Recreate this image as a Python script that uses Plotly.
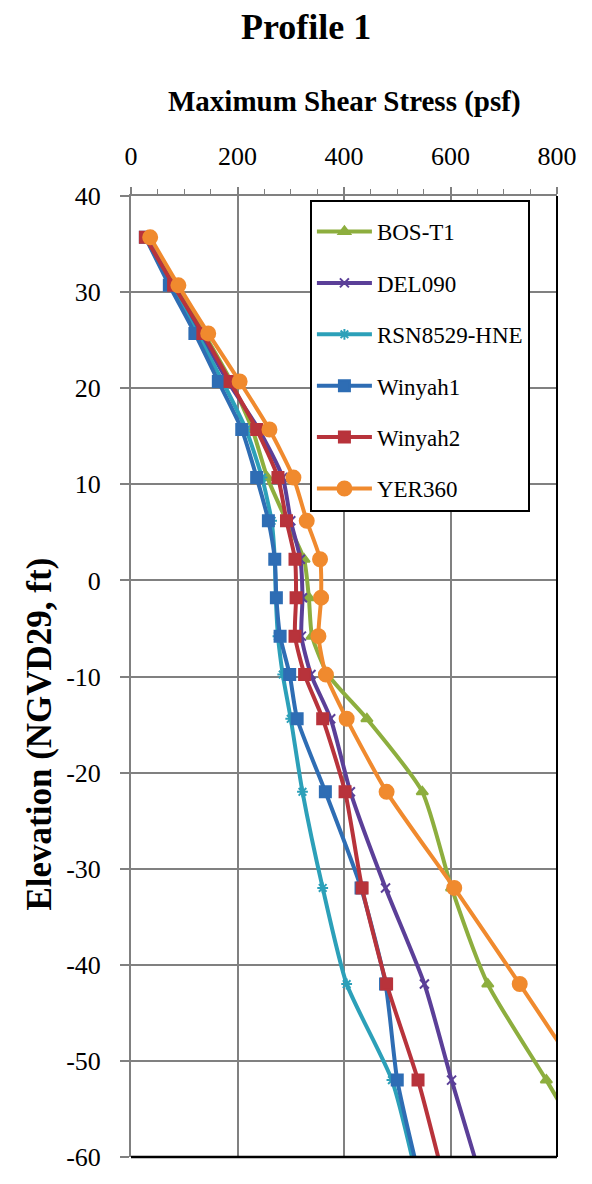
import plotly.graph_objects as go

# Elevation of each output node (ft, NGVD29)
elevation = [35.7, 30.7, 25.7, 20.7, 15.7, 10.7, 6.2, 2.2, -1.8, -5.8, -9.8,
             -14.4, -22, -32, -42, -52, -62]

# Maximum shear stress (psf) for each input motion
bos_t1 = [33, 82, 137, 188, 228, 256, 292, 325, 334, 340, 370, 443, 547, 602, 670, 780, 885]
del090 = [30, 78, 130, 182, 240, 285, 300, 318, 322, 320, 338, 375, 412, 478, 551, 602, 656]
rsn8529_hne = [28, 74, 124, 172, 216, 246, 264, 270, 272, 276, 285, 300, 322, 360, 405, 490, 536]
winyah1 = [27, 72, 120, 164, 208, 236, 258, 270, 273, 280, 298, 312, 365, 432, 478, 500, 541]
winyah2 = [27, 80, 135, 186, 236, 276, 292, 308, 310, 308, 326, 360, 402, 434, 480, 539, 586]
yer360 = [36, 89, 145, 204, 260, 305, 330, 355, 357, 352, 366, 405, 480, 607, 730, 850, 970]

series_names = ["BOS-T1", "DEL090", "RSN8529-HNE", "Winyah1", "Winyah2", "YER360"]
series_values = [bos_t1, del090, rsn8529_hne, winyah1, winyah2, yer360]

x_ticks = [0, 200, 400, 600, 800]
x_tick_labels = ["0", "200", "400", "600", "800"]
y_ticks = [40, 30, 20, 10, 0, -10, -20, -30, -40, -50, -60]
y_tick_labels = ["40", "30", "20", "10", "0", "-10", "-20", "-30", "-40", "-50", "-60"]

styles = [
    dict(color="#8DAE3E", symbol="triangle-up", size=10),
    dict(color="#5B3F98", symbol="x-thin", size=9),
    dict(color="#2CA0B9", symbol="asterisk", size=9),
    dict(color="#2E6DB4", symbol="square", size=11),
    dict(color="#B8333B", symbol="square", size=11),
    dict(color="#F08A2E", symbol="circle", size=14),
]

SERIF = "Liberation Serif"

fig = go.Figure()
for name, vals, st in zip(series_names, series_values, styles):
    fig.add_trace(go.Scatter(
        x=vals, y=elevation, name=name, legendgroup=name,
        mode="lines+markers",
        line=dict(color=st["color"], width=4, shape="spline", smoothing=0.6),
        marker=dict(symbol=st["symbol"], size=st["size"], color=st["color"],
                    line=dict(color=st["color"], width=2)),
    ))

grid = "#808080"
fig.update_layout(
    width=592, height=1184,
    margin=dict(l=131, r=35, t=196, b=16),
    paper_bgcolor="white", plot_bgcolor="white",
    font=dict(family=SERIF, color="black"),
    showlegend=True,
    legend=dict(x=0.42, y=0.9956, xanchor="left", yanchor="top",
                bgcolor="white", bordercolor="black", borderwidth=2,
                font=dict(family=SERIF, size=23, color="black"),
                title=dict(text=" ", font=dict(family=SERIF, size=6)),
                tracegroupgap=18.5, itemwidth=55),
    xaxis=dict(range=[0, 800], side="top", tickvals=x_ticks, ticktext=x_tick_labels,
               showgrid=True, gridcolor=grid, gridwidth=1.5,
               showline=True, linecolor=grid, linewidth=2,
               ticks="outside", ticklen=7, tickcolor=grid, tickwidth=1.5,
               minor=dict(dtick=50, tick0=0, ticks="outside", ticklen=5,
                          tickcolor=grid, tickwidth=1.2, showgrid=False),
               tickfont=dict(family=SERIF, size=26, color="black"),
               ticklabelstandoff=12, zeroline=False),
    yaxis=dict(range=[-60, 40], tickvals=y_ticks, ticktext=y_tick_labels,
               showgrid=True, gridcolor=grid, gridwidth=1.5,
               showline=True, linecolor=grid, linewidth=2,
               ticks="outside", ticklen=9, tickcolor=grid, tickwidth=1.5,
               tickfont=dict(family=SERIF, size=26, color="black"),
               ticklabelstandoff=14, zeroline=False),
    shapes=[
        dict(type="line", xref="paper", yref="paper", x0=0, x1=1, y0=0, y1=0,
             line=dict(color="black", width=2.5)),
        dict(type="line", xref="paper", yref="paper", x0=1, x1=1, y0=0, y1=1,
             line=dict(color="black", width=2)),
    ],
    annotations=[
        dict(text="<b>Profile 1</b>", xref="paper", yref="paper",
             x=0.411, y=1.1756, xanchor="center", yanchor="middle",
             showarrow=False, font=dict(family=SERIF, size=36, color="black")),
        dict(text="<b>Maximum Shear Stress (psf)</b>", xref="paper", yref="paper",
             x=0.5, y=1.0984, xanchor="center", yanchor="middle",
             showarrow=False, font=dict(family=SERIF, size=29, color="black")),
        dict(text="<b>Elevation (NGVD29, ft)</b>", xref="paper", yref="paper",
             x=-0.215, y=0.44, xanchor="center", yanchor="middle", textangle=-90,
             showarrow=False, font=dict(family=SERIF, size=35, color="black")),
    ],
)

fig.write_html("out.html")
